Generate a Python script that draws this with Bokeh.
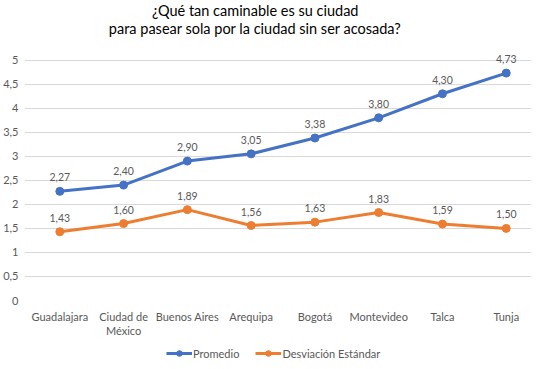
from bokeh.plotting import figure
from bokeh.layouts import column
from bokeh.models import ColumnDataSource, Range1d, Legend, LegendItem
from bokeh.core.properties import value
from bokeh.embed import file_html
from bokeh.resources import INLINE

cities = ["Guadalajara", "Ciudad de\nMéxico", "Buenos Aires", "Arequipa", "Bogotá", "Montevideo", "Talca", "Tunja"]
promedio = [2.27, 2.40, 2.90, 3.05, 3.38, 3.80, 4.30, 4.73]
desviacion = [1.43, 1.60, 1.89, 1.56, 1.63, 1.83, 1.59, 1.50]
yticks = [0, 0.5, 1, 1.5, 2, 2.5, 3, 3.5, 4, 4.5, 5]
ytick_labels = ["0", "0,5", "1", "1,5", "2", "2,5", "3", "3,5", "4", "4,5", "5"]
title_lines = ["¿Qué tan caminable es su ciudad", "para pasear sola por la ciudad sin ser acosada?"]
series_names = ["Promedio", "Desviación Estándar"]

FONT = "Lato"
GREY = "#595959"
BLUE = "#4472C4"
ORANGE = "#ED7D31"
W = 534
TH = 50

def fmt(v):
    return f"{v:.2f}".replace(".", ",")

def bare(fig):
    fig.outline_line_color = None
    fig.axis.visible = False
    fig.grid.visible = False

# ---- title strip (screen-like coordinates)
t = figure(width=W, height=TH, x_range=Range1d(0, W), y_range=Range1d(0, TH),
           output_backend="svg", toolbar_location=None,
           min_border_left=0, min_border_right=0, min_border_top=0, min_border_bottom=0)
bare(t)
t.text(x=[243], y=[TH - 10], text=[title_lines[0]], text_align="center", text_baseline="middle",
       text_font=value(FONT), text_font_size="14.5px", text_color="#000000")
t.text(x=[243], y=[TH - 28], text=[title_lines[1]], text_align="center", text_baseline="middle",
       text_font=value(FONT), text_font_size="14.5px", text_color="#000000")

# ---- main chart
idx = list(range(len(cities)))
p = figure(width=W, height=294, x_range=Range1d(-0.554, 7.396), y_range=Range1d(0, 5.2),
           output_backend="svg", toolbar_location=None, title=None,
           min_border_left=22, min_border_right=3, min_border_top=0, min_border_bottom=44)
p.outline_line_color = None

src1 = ColumnDataSource(dict(x=idx, y=promedio, lab=[fmt(v) for v in promedio]))
src2 = ColumnDataSource(dict(x=idx, y=desviacion, lab=[fmt(v) for v in desviacion]))

p.line("x", "y", source=src1, line_color=BLUE, line_width=3)
p.scatter("x", "y", source=src1, size=8, fill_color=BLUE, line_color=BLUE)
p.line("x", "y", source=src2, line_color=ORANGE, line_width=3)
p.scatter("x", "y", source=src2, size=8, fill_color=ORANGE, line_color=ORANGE)

for s in (src1, src2):
    p.text("x", "y", text="lab", source=s, text_align="center", text_baseline="bottom",
           y_offset=-10, text_font_size="10.5px", text_color=GREY, text_font=value(FONT))

p.xgrid.grid_line_color = None
p.ygrid.grid_line_color = "#D9D9D9"
p.ygrid.grid_line_width = 1
p.yaxis.ticker = yticks
p.yaxis.major_label_overrides = {v: lab for v, lab in zip(yticks, ytick_labels)}
p.xaxis.ticker = idx
p.xaxis.major_label_overrides = {i: c for i, c in zip(idx, cities)}

for ax in (p.xaxis[0], p.yaxis[0]):
    ax.axis_line_color = None
    ax.major_tick_line_color = None
    ax.minor_tick_line_color = None
    ax.major_tick_out = 0
    ax.minor_tick_out = 0
    ax.major_label_text_font = FONT
    ax.major_label_text_font_size = "11px"
    ax.major_label_text_color = GREY
p.yaxis.major_label_standoff = 6
p.xaxis.major_label_standoff = 9
p.xaxis.major_label_text_line_height = 1.1

# ---- legend strip
q = figure(width=W, height=16, x_range=Range1d(0, 1), y_range=Range1d(0, 1),
           output_backend="svg", toolbar_location=None,
           min_border_left=0, min_border_right=0, min_border_top=0, min_border_bottom=0)
bare(q)
r = []
for col in (BLUE, ORANGE):
    ln = q.line(x=[5, 6], y=[5, 6], line_color=col, line_width=3)
    sc = q.scatter(x=[5], y=[5], size=8, fill_color=col, line_color=col)
    r.append([ln, sc])
legend = Legend(items=[LegendItem(label=series_names[0], renderers=r[0]),
                       LegendItem(label=series_names[1], renderers=r[1])],
                orientation="horizontal", location=(142, 0),
                label_text_font=FONT, label_text_font_size="11px", label_text_color=GREY,
                border_line_color=None, background_fill_alpha=0, glyph_width=26,
                glyph_height=14, label_height=14,
                label_standoff=1, spacing=16, padding=1, margin=0)
q.add_layout(legend)

layout = column(t, p, q, spacing=0)
open("out.html", "w").write(file_html(layout, INLINE))
